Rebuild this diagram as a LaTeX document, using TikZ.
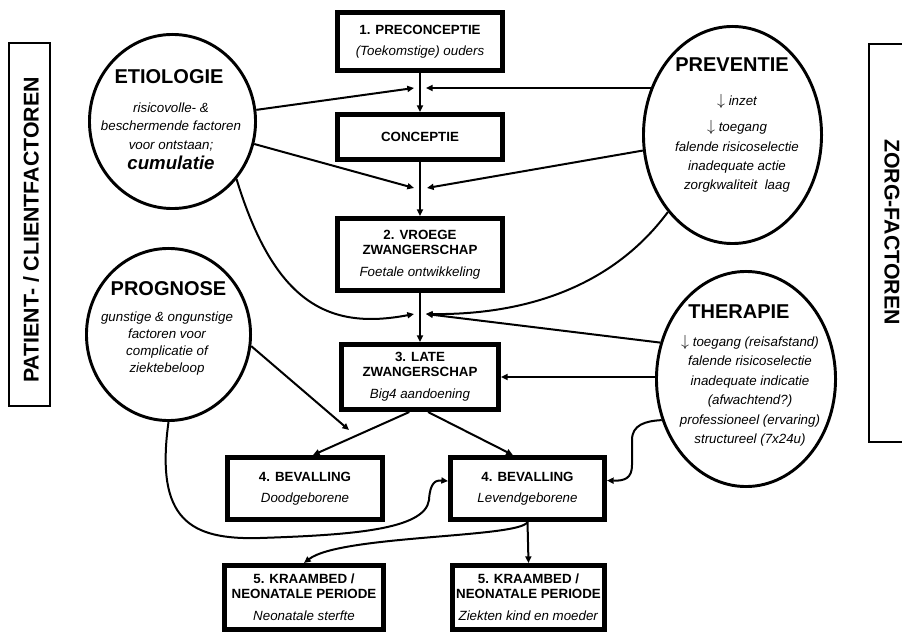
\documentclass[tikz,border=0pt]{standalone}
\usepackage{fontspec}
\setmainfont{Liberation Sans}
\usetikzlibrary{shapes.geometric,arrows.meta}

\newcommand{\neerpijl}{{\fontsize{13}{13}\selectfont$\downarrow$}}

\tikzset{
  fase/.style={rectangle, draw, line width=4pt, inner sep=0pt, align=center, font=\fontsize{10}{11.5}\selectfont},
  factor/.style={ellipse, draw, line width=2.2pt, inner sep=0pt},
  ftitel/.style={font=\fontsize{15}{15}\selectfont\bfseries},
  ftekst/.style={align=center, font=\fontsize{10}{14}\selectfont\itshape},
  zijbox/.style={rectangle, draw, line width=1.5pt, inner sep=0pt},
  zijtekst/.style={font=\fontsize{16}{16}\selectfont\bfseries},
  pijl/.style={-{Triangle[length=5pt,width=4.5pt]}, line width=1.5pt}
}

\begin{document}
\begin{tikzpicture}[x=0.75pt, y=-0.75pt]
    \useasboundingbox (0,0) rectangle (902,634);
    \clip (0,0) rectangle (902,634);

    % zijbalken
    \node[zijbox, minimum width=272.25pt, minimum height=30.75pt, rotate=90] (clientbox) at (29.5,224.5) {};
    \node[zijtekst, rotate=90] (client) at (31,230) {PATIENT- / CLIENTFACTOREN};
    \node[zijbox, minimum width=298.5pt, minimum height=36pt, rotate=-90] (zorgbox) at (893,243) {};
    \node[zijtekst, rotate=-90] (zorg) at (892,232) {ZORG-FACTOREN};

    % fasen
    \node[fase, minimum width=123.5pt, minimum height=43.25pt] (pre) at (420,41.5) {\textbf{1. PRECONCEPTIE}\\[4pt]\textit{(Toekomstige) ouders}};
    \node[fase, minimum width=123.5pt, minimum height=33.5pt] (conc) at (420,137) {\textbf{CONCEPTIE}};
    \node[fase, minimum width=123.5pt, minimum height=53.75pt] (vroeg) at (420,254.5) {\textbf{2. VROEGE}\\\textbf{ZWANGERSCHAP}\\[5pt]\textit{Foetale ontwikkeling}};
    \node[fase, minimum width=117.5pt, minimum height=48.5pt] (laat) at (420,377) {\textbf{3. LATE}\\\textbf{ZWANGERSCHAP}\\[5pt]\textit{Big4 aandoening}};
    \node[fase, minimum width=116pt, minimum height=46.25pt] (dood) at (305,488.5) {\textbf{4. BEVALLING}\\[4pt]\textit{Doodgeborene}};
    \node[fase, minimum width=115.25pt, minimum height=46.25pt] (levend) at (527.5,488.5) {\textbf{4. BEVALLING}\\[4pt]\textit{Levendgeborene}};
    \node[fase, minimum width=119pt, minimum height=47.75pt] (sterfte) at (304,597.5) {\textbf{5. KRAAMBED /}\\\textbf{NEONATALE PERIODE}\\[5pt]\textit{Neonatale sterfte}};
    \node[fase, minimum width=113.75pt, minimum height=47.75pt] (ziekten) at (528.5,597.5) {\textbf{5. KRAAMBED /}\\\textbf{NEONATALE PERIODE}\\[5pt]\textit{Ziekten kind en moeder}};

    % factoren
    \node[factor, minimum width=124.55pt, minimum height=130.55pt] (etio) at (172.5,121.5) {};
    \node[ftitel] (etiotitel) at (169,77) {ETIOLOGIE};
    \node[ftekst] (etiotekst) at (171,136) {risicovolle- \&\\beschermende factoren\\voor ontstaan;\\[1pt]{\fontsize{14}{14}\selectfont\bfseries cumulatie}};

    \node[factor, minimum width=133.55pt, minimum height=162.8pt] (prev) at (732.5,135) {};
    \node[ftitel] (prevtitel) at (732,65) {PREVENTIE};
    \node[ftekst] (prevtekst) at (737,143) {\neerpijl\ inzet\\[6pt]\neerpijl\ toegang\\[1pt]falende risicoselectie\\inadequate actie\\zorgkwaliteit\ \ laag};

    \node[factor, minimum width=123.05pt, minimum height=129.05pt] (prog) at (168.5,334.5) {};
    \node[ftitel] (progtitel) at (168.5,289) {PROGNOSE};
    \node[ftekst, font=\fontsize{10}{12.75}\selectfont\itshape] (progtekst) at (167,344) {gunstige \& ongunstige\\factoren voor\\complicatie of\\ziektebeloop};

    \node[factor, minimum width=134.3pt, minimum height=161.3pt] (ther) at (746,379) {};
    \node[ftitel] (thertitel) at (739,312) {THERAPIE};
    \node[ftekst, font=\fontsize{10}{14.6}\selectfont\itshape] (thertekst) at (750,391) {\neerpijl\ toegang (reisafstand)\\falende risicoselectie\\inadequate indicatie\\(afwachtend?)\\professioneel (ervaring)\\structureel (7x24u)};

    % knooppunten
    \coordinate (j1w) at (414,88);
    \coordinate (j1e) at (426,88);
    \coordinate (j2w) at (414,188);
    \coordinate (j2e) at (427,188);
    \coordinate (j3w) at (414,314);
    \coordinate (j3e) at (426,314);
    \coordinate (progpunt) at (349,430);

    % verbindingen
    \draw[pijl] (pre) -- (conc);
    \draw[pijl] (conc) -- (vroeg);
    \draw[pijl] (vroeg) -- (laat);
    \draw[pijl] (etio) -- (j1w);
    \draw[pijl] (j1e -| prev.150) -- (j1e);
    \draw[pijl] (etio) -- (j2w);
    \draw[pijl] (prev) -- (j2e);
    \draw[pijl] (etio.-42) .. controls (275,305) and (330,330) .. (j3w);
    \draw[pijl] (prev.-130) .. controls (610,290) and (520,315) .. (j3e);
    \draw[pijl] (ther.157) -- (j3e);
    \draw[pijl] (laat.east -| ther.west) -- (laat.east);
    \draw[pijl] (ther.206) .. controls (645,421) and (632,425) .. (632,440) -- (632,465) .. controls (632,478) and (625,481) .. ([yshift=6pt]levend.east);
    \draw[pijl] (prog.-8) -- (progpunt);
    \draw[pijl] ([xshift=-8pt]laat.south) -- ([xshift=6pt]dood.north);
    \draw[pijl] ([xshift=6pt]laat.south) -- ([xshift=-11pt]levend.north);
    \draw[pijl] (prog.south) .. controls (155,520) and (190,540) .. (260,538) .. controls (350,535) and (425,530) .. (429,500) .. controls (430,482) and (436,480) .. ([yshift=5.6pt]levend.west);
    \draw[pijl] (levend.south) .. controls (520,538) and (340,535) .. (sterfte.north);
    \draw[pijl] (levend.south) -- (ziekten.north);
\end{tikzpicture}
\end{document}
